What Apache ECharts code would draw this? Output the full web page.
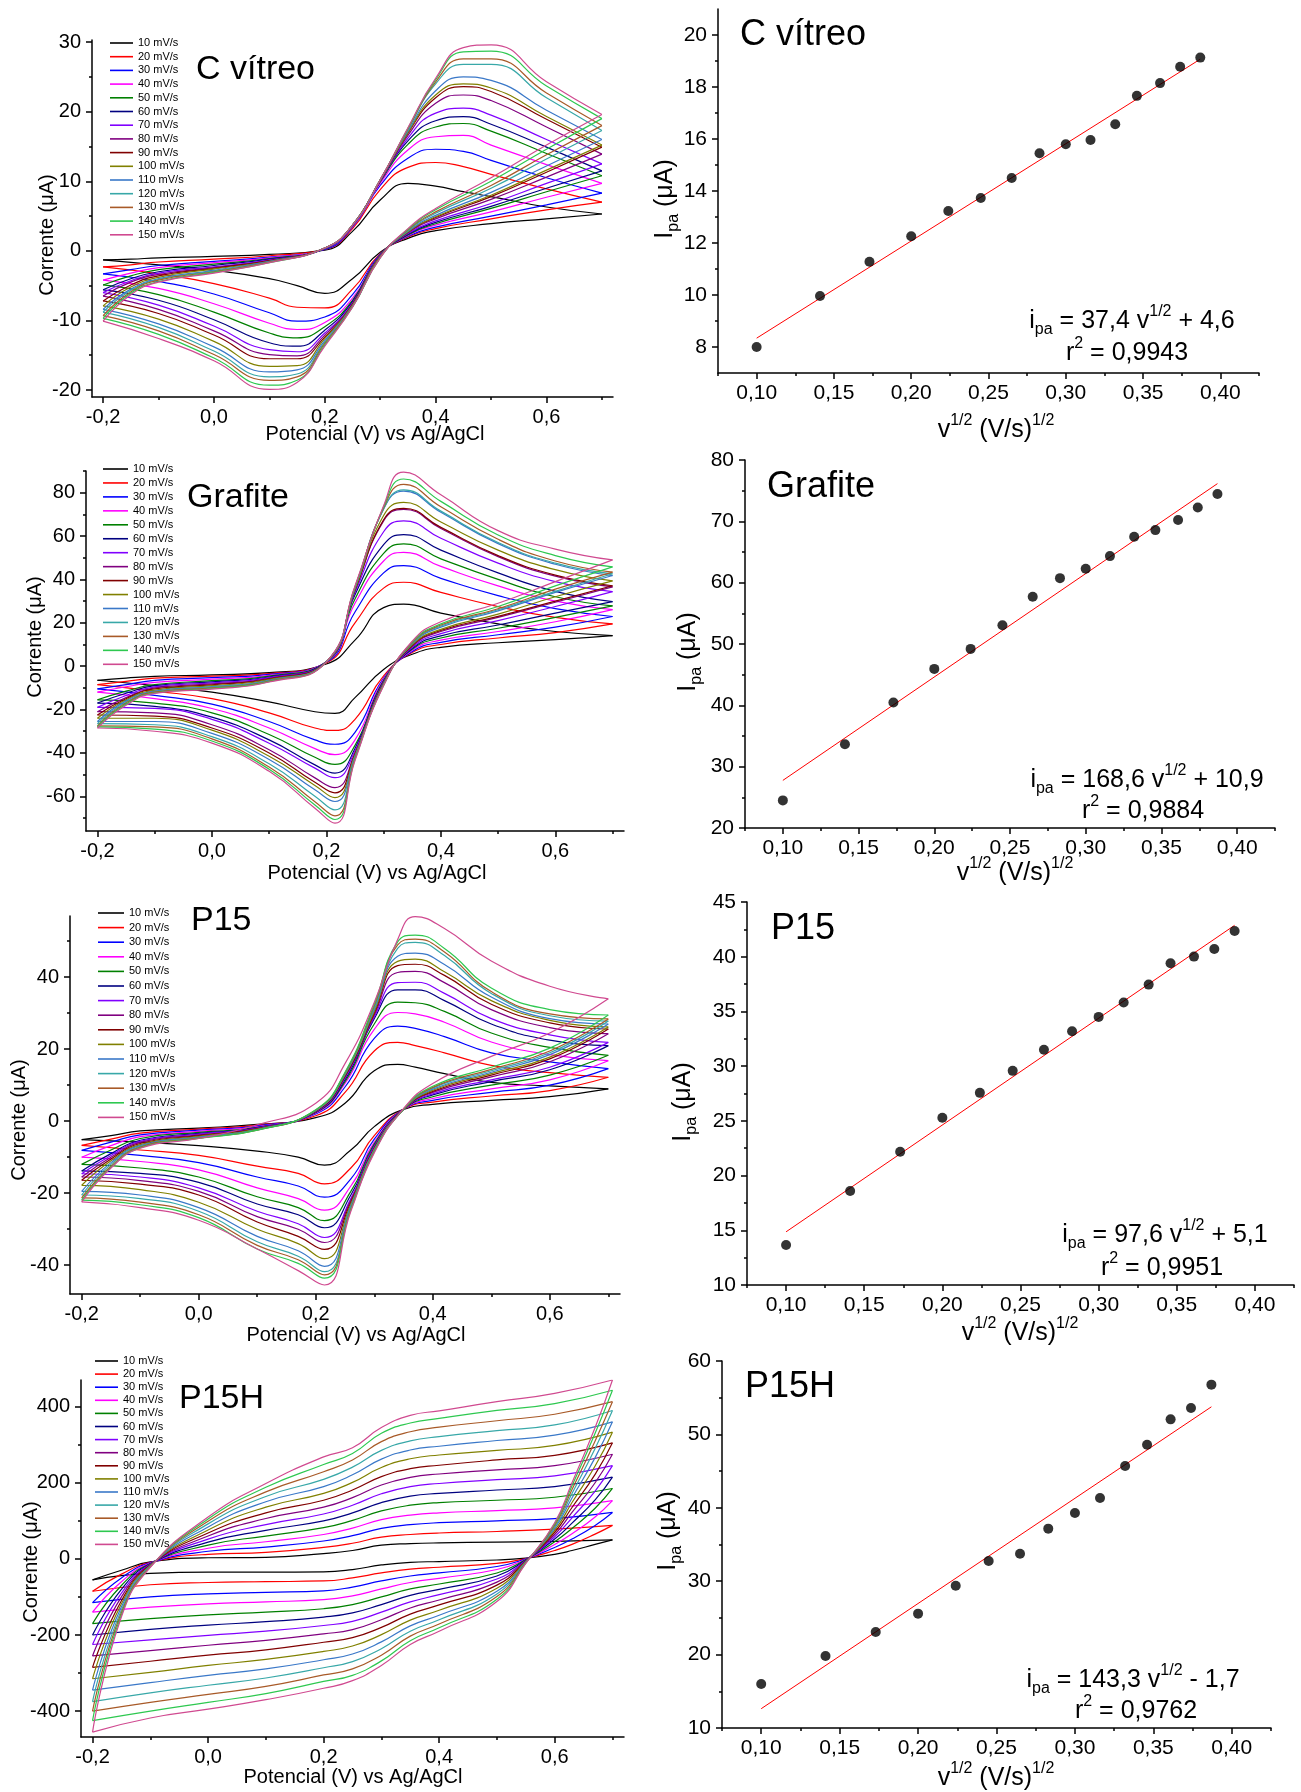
<!DOCTYPE html>
<html>
<head>
<meta charset="utf-8">
<script src="https://cdn.jsdelivr.net/npm/echarts@6/dist/echarts.min.js"></script>
<style>
  html, body { margin: 0; padding: 0; background: #fff; }
  #chart { width: 1301px; height: 1792px; }
</style>
</head>
<body>
<div id="chart"></div>
<script>
// scan rates, one curve per rate
const rates = ['10 mV/s', '20 mV/s', '30 mV/s', '40 mV/s', '50 mV/s', '60 mV/s', '70 mV/s', '80 mV/s',
  '90 mV/s', '100 mV/s', '110 mV/s', '120 mV/s', '130 mV/s', '140 mV/s', '150 mV/s'];
const lineColors = ['#000000', '#ff0000', '#0000ff', '#ff00ff', '#008000', '#000080', '#8000ff', '#800080',
  '#800000', '#808000', '#3a78c8', '#38a8a8', '#a85a28', '#2ec850', '#d04a90'];

// C vítreo: forward (anodic) and reverse scans, current in µA
const vitreoFwdE = [-0.2, -0.15, -0.1, 0.0, 0.1, 0.2, 0.25, 0.3, 0.35, 0.4, 0.45, 0.5, 0.6, 0.7];
const vitreoFwdI = [
  [-1.3, -1.2, -1.0, -0.8, -0.5, 0.1, 2.8, 7.3, 9.7, 9.3, 8.5, 7.8, 6.3, 5.3],
  [-2.3, -2.0, -1.6, -1.2, -0.7, 0.2, 3.2, 8.8, 12.0, 12.7, 12.1, 11.0, 8.9, 7.0],
  [-3.3, -2.7, -2.1, -1.5, -0.9, 0.2, 3.4, 9.4, 13.3, 14.6, 14.3, 13.0, 10.5, 8.3],
  [-4.2, -3.2, -2.4, -1.7, -1.0, 0.3, 3.5, 9.7, 14.5, 16.4, 16.6, 15.2, 12.4, 9.7],
  [-4.9, -3.6, -2.7, -1.9, -1.1, 0.3, 3.6, 9.9, 15.3, 17.8, 18.3, 17.2, 14.0, 10.8],
  [-5.6, -4.0, -3.0, -2.1, -1.2, 0.3, 3.6, 10.0, 15.8, 18.7, 19.3, 18.2, 14.9, 11.5],
  [-6.0, -4.3, -3.2, -2.3, -1.3, 0.3, 3.6, 10.0, 16.2, 19.8, 20.5, 19.5, 16.0, 12.5],
  [-6.5, -4.5, -3.4, -2.4, -1.4, 0.4, 3.7, 10.1, 16.6, 21.2, 22.4, 21.6, 17.8, 13.9],
  [-7.2, -4.9, -3.6, -2.5, -1.4, 0.4, 3.7, 10.1, 16.9, 22.0, 23.6, 22.9, 18.9, 14.9],
  [-7.9, -5.2, -3.8, -2.6, -1.5, 0.4, 3.7, 10.2, 17.0, 22.4, 24.0, 23.4, 19.3, 15.2],
  [-8.4, -5.5, -4.0, -2.8, -1.5, 0.4, 3.7, 10.2, 17.2, 23.0, 25.0, 24.5, 20.2, 16.0],
  [-8.8, -5.7, -4.1, -2.9, -1.6, 0.4, 3.7, 10.2, 17.4, 24.0, 26.8, 26.8, 22.0, 17.3],
  [-9.3, -5.9, -4.2, -3.0, -1.6, 0.4, 3.7, 10.2, 17.5, 24.3, 27.6, 27.6, 22.7, 18.0],
  [-9.7, -6.1, -4.4, -3.1, -1.7, 0.4, 3.7, 10.2, 17.6, 24.6, 28.6, 28.7, 23.7, 19.0],
  [-10.1, -6.3, -4.5, -3.2, -1.7, 0.4, 3.7, 10.2, 17.7, 24.8, 29.2, 29.6, 24.3, 19.6]
];
const vitreoRevE = [0.7, 0.6, 0.5, 0.4, 0.35, 0.3, 0.25, 0.2, 0.15, 0.1, 0.0, -0.1, -0.2];
const vitreoRevI = [
  [5.3, 4.6, 3.9, 2.9, 1.8, -0.2, -4.0, -6.1, -5.0, -4.0, -2.8, -2.0, -1.3],
  [7.0, 5.9, 4.6, 3.2, 2.0, -0.4, -5.5, -8.2, -8.1, -6.8, -4.7, -3.3, -2.3],
  [8.3, 6.6, 5.0, 3.4, 2.1, -0.5, -6.3, -9.5, -10.1, -8.9, -6.2, -4.4, -3.3],
  [9.7, 7.7, 5.6, 3.7, 2.2, -0.6, -6.8, -10.3, -11.3, -10.4, -7.6, -5.4, -4.2],
  [10.8, 8.5, 6.1, 3.9, 2.3, -0.6, -7.1, -10.9, -12.5, -11.8, -8.8, -6.3, -4.9],
  [11.5, 9.0, 6.4, 4.1, 2.4, -0.7, -7.3, -11.4, -13.7, -13.2, -9.9, -7.1, -5.6],
  [12.5, 9.7, 6.8, 4.3, 2.5, -0.7, -7.5, -11.8, -14.5, -14.2, -10.8, -7.8, -6.0],
  [13.9, 10.6, 7.4, 4.6, 2.6, -0.8, -7.6, -12.1, -15.1, -14.9, -11.5, -8.4, -6.5],
  [14.9, 11.3, 7.8, 4.8, 2.7, -0.8, -7.7, -12.4, -15.5, -15.5, -12.1, -9.0, -7.2],
  [15.2, 11.6, 8.0, 4.9, 2.7, -0.8, -7.8, -12.6, -16.5, -16.6, -13.0, -9.8, -7.9],
  [16.0, 12.2, 8.4, 5.1, 2.8, -0.9, -7.9, -12.9, -17.1, -17.4, -13.8, -10.5, -8.4],
  [17.3, 13.2, 9.0, 5.4, 2.9, -0.9, -8.0, -13.1, -17.7, -18.1, -14.4, -11.0, -8.8],
  [18.0, 13.8, 9.4, 5.6, 3.0, -0.9, -8.0, -13.3, -18.1, -18.6, -14.9, -11.5, -9.3],
  [19.0, 14.6, 10.0, 5.9, 3.1, -1.0, -8.1, -13.5, -18.6, -19.3, -15.4, -12.0, -9.7],
  [19.6, 15.2, 10.5, 6.1, 3.2, -1.0, -8.1, -13.7, -18.9, -19.9, -15.8, -12.6, -10.1]
];

// Grafite
const grafiteFwdE = [-0.2, -0.15, -0.1, 0.0, 0.1, 0.2, 0.25, 0.3, 0.335, 0.4, 0.5, 0.6, 0.7];
const grafiteFwdI = [
  [-6.5, -5.5, -4.7, -4.0, -3.0, 1.0, 12.0, 27.0, 28.6, 24.5, 19.5, 16.0, 14.1],
  [-8.5, -7.0, -5.5, -4.6, -3.4, 1.5, 20.0, 36.0, 38.7, 34.0, 27.5, 22.5, 19.5],
  [-10.5, -8.5, -6.5, -5.3, -3.8, 1.8, 25.0, 43.0, 46.4, 40.5, 32.5, 26.5, 22.9],
  [-12.0, -9.5, -7.5, -6.0, -4.2, 2.0, 29.0, 48.5, 52.5, 46.0, 37.0, 30.0, 26.1],
  [-15.5, -11.5, -8.5, -6.7, -4.6, 2.0, 31.0, 52.0, 56.4, 49.5, 40.0, 32.0, 27.8],
  [-17.0, -12.5, -9.0, -7.2, -5.0, 2.0, 33.0, 56.0, 60.7, 53.5, 43.0, 34.5, 29.8],
  [-19.0, -13.5, -9.5, -7.7, -5.3, 2.0, 34.0, 62.0, 67.0, 59.0, 47.5, 39.0, 34.4],
  [-21.0, -14.5, -10.0, -8.2, -5.6, 2.0, 35.0, 67.0, 72.3, 63.5, 50.5, 41.5, 36.6],
  [-22.5, -15.0, -10.5, -8.6, -5.9, 2.0, 35.0, 67.5, 72.8, 64.0, 51.0, 42.0, 37.1],
  [-24.0, -15.5, -11.0, -9.0, -6.2, 2.0, 35.5, 69.5, 75.5, 66.5, 53.5, 44.5, 39.3],
  [-25.5, -16.0, -11.5, -9.4, -6.5, 2.0, 36.0, 72.5, 80.7, 71.0, 56.5, 47.0, 41.8],
  [-26.5, -16.5, -11.8, -9.7, -6.7, 2.0, 36.0, 72.5, 81.3, 71.5, 57.0, 47.5, 42.6],
  [-27.5, -17.0, -12.0, -10.0, -6.9, 2.0, 36.5, 73.0, 83.8, 73.5, 58.5, 48.5, 43.4],
  [-28.0, -17.5, -12.3, -10.3, -7.1, 2.0, 36.5, 73.5, 86.3, 76.0, 60.5, 51.0, 45.8],
  [-28.5, -18.0, -12.5, -10.6, -7.3, 2.0, 37.0, 74.0, 89.5, 79.0, 62.5, 54.0, 49.0]
];
const grafiteRevE = [0.7, 0.6, 0.5, 0.4, 0.35, 0.3, 0.25, 0.215, 0.18, 0.1, 0.0, -0.1, -0.2];
const grafiteRevI = [
  [14.1, 12.2, 10.8, 8.7, 5.5, -1.5, -14.5, -21.8, -21.0, -16.5, -12.0, -9.0, -6.5],
  [19.5, 15.5, 13.0, 10.0, 6.3, -4.5, -24.5, -29.6, -28.5, -21.5, -15.0, -11.5, -8.5],
  [22.9, 18.0, 14.5, 11.0, 6.8, -5.5, -30.5, -36.0, -34.0, -25.5, -17.5, -13.5, -10.5],
  [26.1, 20.5, 16.0, 12.0, 7.3, -6.0, -34.0, -40.8, -38.0, -28.5, -19.5, -15.0, -12.0],
  [27.8, 22.5, 17.5, 13.0, 7.8, -6.5, -36.5, -45.3, -42.0, -31.5, -21.5, -17.0, -15.5],
  [29.8, 24.5, 19.0, 14.0, 8.2, -7.0, -38.0, -49.3, -45.5, -34.0, -23.5, -18.5, -17.0],
  [34.4, 27.5, 21.0, 15.0, 8.7, -7.3, -39.0, -51.4, -47.0, -35.5, -24.5, -19.5, -19.0],
  [36.6, 29.5, 22.5, 16.0, 9.2, -7.6, -40.0, -56.0, -51.5, -38.5, -27.0, -21.5, -21.0],
  [37.1, 30.0, 23.0, 16.5, 9.5, -7.8, -40.5, -58.4, -53.5, -40.0, -28.5, -23.0, -22.5],
  [39.3, 32.0, 24.0, 17.0, 9.8, -8.0, -41.0, -60.6, -55.0, -41.5, -29.5, -24.0, -24.0],
  [41.8, 34.0, 25.5, 18.0, 10.3, -8.2, -41.5, -62.4, -57.0, -43.0, -31.0, -25.5, -25.5],
  [42.6, 34.5, 26.0, 18.5, 10.5, -8.4, -42.0, -66.3, -60.0, -45.0, -32.5, -27.0, -26.5],
  [43.4, 35.5, 26.5, 19.0, 10.8, -8.6, -42.5, -69.0, -62.5, -46.5, -33.5, -28.0, -27.5],
  [45.8, 37.0, 27.5, 19.5, 11.1, -8.8, -43.0, -70.7, -64.0, -47.5, -34.5, -29.0, -28.0],
  [49.0, 39.0, 29.0, 20.5, 11.5, -9.0, -43.5, -72.4, -65.5, -48.5, -35.5, -30.0, -28.5]
];

// P15
const p15FwdE = [-0.2, -0.15, -0.1, 0.0, 0.1, 0.2, 0.25, 0.3, 0.34, 0.37, 0.42, 0.5, 0.6, 0.7];
const p15FwdI = [
  [-5.1, -4.0, -2.7, -1.9, -0.9, 1.0, 5.0, 14.0, 15.8, 15.0, 13.2, 10.8, 9.8, 9.0],
  [-6.7, -5.0, -3.3, -2.2, -1.1, 1.5, 8.0, 19.5, 21.9, 21.0, 19.0, 15.5, 13.5, 12.2],
  [-8.1, -5.8, -3.8, -2.5, -1.3, 2.0, 9.5, 23.0, 26.4, 25.8, 23.5, 19.0, 16.5, 14.6],
  [-10.0, -6.8, -4.3, -2.8, -1.5, 2.2, 10.5, 25.5, 30.2, 29.8, 27.5, 22.0, 18.5, 16.8],
  [-12.0, -8.0, -4.8, -3.1, -1.7, 2.4, 11.0, 27.0, 33.1, 32.9, 30.5, 24.5, 20.5, 18.3],
  [-13.8, -9.0, -5.3, -3.4, -1.8, 2.5, 11.5, 28.5, 36.5, 36.5, 33.5, 27.0, 22.5, 21.0],
  [-14.6, -9.5, -5.6, -3.6, -1.9, 2.6, 12.0, 29.0, 38.5, 38.6, 35.5, 28.5, 24.0, 21.9],
  [-15.5, -10.0, -5.9, -3.8, -2.0, 2.7, 12.3, 29.5, 41.3, 41.6, 38.5, 31.0, 26.0, 24.3],
  [-16.4, -10.5, -6.2, -4.0, -2.1, 2.8, 12.5, 30.0, 43.2, 43.6, 40.5, 32.5, 27.3, 25.6],
  [-17.8, -11.0, -6.5, -4.2, -2.2, 2.9, 12.8, 30.5, 44.4, 45.0, 41.5, 33.5, 28.0, 26.2],
  [-19.5, -11.5, -6.8, -4.4, -2.3, 3.0, 13.0, 31.0, 45.8, 46.7, 43.5, 34.5, 28.5, 27.0],
  [-20.5, -12.0, -7.0, -4.6, -2.4, 3.0, 13.2, 31.5, 48.0, 49.7, 46.0, 35.5, 29.3, 27.8],
  [-21.3, -12.5, -7.2, -4.7, -2.5, 3.1, 13.4, 32.0, 49.0, 50.6, 47.0, 36.0, 29.8, 28.4],
  [-21.9, -12.8, -7.4, -4.8, -2.5, 3.2, 13.6, 32.5, 49.8, 51.7, 48.0, 37.0, 31.0, 29.5],
  [-22.4, -13.0, -7.5, -4.8, -1.0, 5.0, 16.0, 33.0, 50.5, 56.8, 53.5, 44.5, 37.5, 34.0]
];
const p15RevE = [0.7, 0.6, 0.5, 0.4, 0.35, 0.3, 0.26, 0.215, 0.17, 0.1, 0.0, -0.1, -0.2];
const p15RevI = [
  [9.0, 6.8, 5.8, 4.7, 3.3, -1.5, -8.0, -12.2, -10.0, -8.3, -6.8, -5.8, -5.1],
  [12.2, 8.5, 7.0, 5.3, 3.3, -4.0, -13.0, -17.4, -14.5, -12.5, -9.5, -8.0, -6.7],
  [14.6, 10.0, 8.0, 5.8, 3.3, -5.0, -16.0, -21.1, -18.0, -15.5, -11.5, -9.5, -8.1],
  [16.8, 11.5, 9.0, 6.3, 3.3, -5.8, -18.0, -24.7, -21.5, -18.5, -13.5, -11.2, -10.0],
  [18.3, 12.8, 10.0, 6.8, 3.3, -6.3, -19.5, -27.6, -24.0, -21.0, -15.5, -13.0, -12.0],
  [21.0, 14.3, 11.0, 7.3, 3.3, -6.8, -20.5, -29.6, -26.0, -23.0, -17.0, -14.5, -13.8],
  [21.9, 15.0, 11.5, 7.6, 3.3, -7.0, -21.5, -32.3, -28.5, -25.0, -18.5, -15.5, -14.6],
  [24.3, 16.5, 12.3, 8.0, 3.3, -7.3, -22.0, -33.7, -30.0, -26.5, -19.5, -16.5, -15.5],
  [25.6, 17.3, 12.8, 8.3, 3.3, -7.5, -22.5, -35.6, -32.0, -28.0, -20.5, -17.5, -16.4],
  [26.2, 17.8, 13.2, 8.6, 3.3, -7.7, -23.0, -38.2, -34.0, -30.0, -22.5, -19.0, -17.8],
  [27.0, 18.5, 13.6, 8.9, 3.3, -7.9, -23.5, -40.3, -36.0, -32.0, -24.0, -20.5, -19.5],
  [27.8, 19.0, 14.0, 9.2, 3.3, -8.1, -24.0, -41.8, -37.5, -33.5, -25.0, -21.5, -20.5],
  [28.4, 19.5, 14.4, 9.4, 3.3, -8.3, -24.3, -42.7, -38.5, -34.5, -26.0, -22.5, -21.3],
  [29.5, 20.3, 15.0, 9.7, 3.3, -8.5, -24.6, -43.6, -39.5, -35.5, -26.8, -23.2, -21.9],
  [34.0, 24.5, 18.0, 10.5, 3.5, -8.8, -25.0, -45.5, -41.5, -35.5, -27.5, -24.0, -22.4]
];

// P15H
const p15hFwdE = [-0.2, -0.15, -0.1, 0.0, 0.1, 0.2, 0.25, 0.3, 0.35, 0.4, 0.5, 0.6, 0.7];
const p15hFwdI = [
  [-55, -30, -8, 3, 4, 14, 22, 36, 40, 42, 44, 46, 50],
  [-85, -40, -9, 12, 17, 30, 41, 57, 64, 68, 72, 78, 88],
  [-115, -50, -10, 20, 31, 47, 61, 80, 90, 95, 100, 106, 122],
  [-140, -60, -11, 28, 45, 64, 81, 103, 115, 121, 127, 134, 153],
  [-170, -70, -12, 36, 60, 82, 101, 126, 141, 148, 154, 162, 185],
  [-200, -80, -13, 44, 75, 100, 121, 148, 165, 172, 181, 190, 215],
  [-225, -90, -14, 52, 90, 118, 141, 171, 190, 198, 208, 218, 245],
  [-255, -100, -15, 60, 106, 136, 161, 194, 214, 223, 234, 245, 275],
  [-285, -110, -16, 68, 121, 154, 181, 216, 237, 246, 260, 272, 305],
  [-315, -118, -17, 76, 136, 172, 201, 240, 263, 273, 285, 298, 333],
  [-345, -126, -18, 84, 150, 190, 221, 262, 286, 296, 311, 325, 360],
  [-375, -134, -19, 92, 164, 209, 241, 285, 310, 321, 337, 352, 390],
  [-400, -141, -20, 99, 176, 229, 260, 308, 334, 346, 363, 380, 413],
  [-425, -147, -21, 105, 188, 248, 277, 330, 357, 369, 390, 408, 443],
  [-455, -152, -22, 110, 198, 268, 292, 345, 377, 389, 413, 435, 470]
];
const p15hRevE = [0.7, 0.67, 0.63, 0.6, 0.55, 0.5, 0.4, 0.35, 0.3, 0.25, 0.2, 0.1, 0.0, -0.1, -0.2];
const p15hRevI = [
  [50, 38, 22, 12, 2, -3, -7, -9, -16, -28, -34, -35, -35, -38, -55],
  [88, 65, 38, 22, 1, -12, -22, -27, -37, -50, -58, -60, -62, -68, -85],
  [122, 88, 52, 30, 0, -20, -37, -45, -58, -74, -84, -88, -92, -100, -115],
  [153, 110, 66, 38, -1, -28, -51, -62, -79, -97, -107, -113, -118, -127, -140],
  [185, 133, 80, 45, -2, -37, -66, -79, -100, -120, -131, -140, -147, -157, -170],
  [215, 155, 94, 52, -3, -45, -80, -96, -120, -142, -153, -165, -174, -185, -200],
  [245, 178, 108, 58, -4, -53, -94, -113, -140, -164, -175, -190, -201, -213, -225],
  [275, 200, 122, 64, -5, -61, -108, -129, -160, -186, -197, -214, -227, -241, -255],
  [305, 222, 135, 70, -6, -69, -121, -145, -180, -207, -219, -239, -253, -269, -285],
  [333, 244, 148, 75, -7, -77, -135, -161, -199, -229, -243, -264, -280, -298, -315],
  [360, 266, 160, 80, -8, -85, -148, -176, -218, -250, -265, -289, -306, -325, -345],
  [390, 290, 172, 84, -9, -92, -160, -190, -236, -270, -286, -313, -332, -352, -375],
  [413, 310, 182, 88, -10, -99, -171, -203, -253, -289, -305, -335, -356, -377, -400],
  [443, 330, 192, 92, -11, -106, -181, -215, -268, -306, -322, -354, -377, -400, -425],
  [470, 345, 200, 95, -12, -112, -190, -225, -280, -320, -340, -370, -395, -418, -455]
];

// peak current vs square root of scan rate
const sqrtRate = [0.100, 0.141, 0.173, 0.200, 0.224, 0.245, 0.265, 0.283, 0.300, 0.316, 0.332, 0.346, 0.361, 0.374, 0.387];
const vitreoIpa = [8.0, 9.96, 11.28, 12.26, 13.23, 13.73, 14.5, 15.45, 15.8, 15.96, 16.57, 17.66, 18.15, 18.78, 19.13];
const grafiteIpa = [24.5, 33.65, 40.45, 45.94, 49.2, 53.07, 57.69, 60.74, 62.26, 64.33, 67.49, 68.57, 70.21, 72.27, 74.45];
const p15Ipa = [13.65, 18.59, 22.18, 25.28, 27.56, 29.57, 31.49, 33.19, 34.5, 35.81, 37.45, 39.4, 40.01, 40.71, 42.35];
const p15hIpa = [16.0, 19.81, 23.08, 25.58, 29.39, 32.75, 33.75, 37.16, 39.29, 41.34, 45.69, 48.6, 52.05, 53.6, 56.78];
const fitX = [0.100, 0.387];
const vitreoFit = [8.34, 19.07];
const grafiteFit = [27.76, 76.15];
const p15Fit = [14.86, 42.87];
const p15hFit = [12.63, 53.76];

const FONT = '"Liberation Sans", Arial, sans-serif';
const chart = echarts.init(document.getElementById('chart'));

const grids = [
  { left: 92, top: 40, width: 521, height: 357 },
  { left: 718, top: 9, width: 541, height: 364 },
  { left: 86, top: 471, width: 538, height: 360 },
  { left: 745, top: 460, width: 530, height: 368 },
  { left: 70, top: 916, width: 550, height: 378 },
  { left: 747, top: 902, width: 547, height: 383 },
  { left: 81, top: 1380, width: 543, height: 357 },
  { left: 722, top: 1361, width: 549, height: 367 }
];

const cvTicks = [-0.2, 0.0, 0.2, 0.4, 0.6];
const cvMinor = [-0.1, 0.1, 0.3, 0.5, 0.7];
const fitTicks = [0.10, 0.15, 0.20, 0.25, 0.30, 0.35, 0.40];
const fitMinor = [0.075, 0.125, 0.175, 0.225, 0.275, 0.325, 0.375, 0.425];

const xAxes = [];
const yAxes = [];
const comma = (v, d) => v.toFixed(d).replace('.', ',');

function lineAx(g, min, max, major, minor, fmt, fs, margin, pos) {
  const ls = { color: '#000', width: 1.5 };
  return [{
    type: 'value', gridIndex: g, min, max, position: pos,
    axisLine: { show: true, onZero: false, lineStyle: ls },
    axisTick: { show: true, inside: false, length: 6, lineStyle: ls, customValues: major },
    axisLabel: { show: true, customValues: major, formatter: fmt, color: '#000', fontSize: fs, fontFamily: FONT, margin },
    splitLine: { show: false }
  }, {
    type: 'value', gridIndex: g, min, max, position: pos,
    axisLine: { show: false, onZero: false },
    axisTick: { show: true, inside: false, length: 3, lineStyle: ls, customValues: minor },
    axisLabel: { show: false },
    splitLine: { show: false }
  }];
}

function addAxes(g, xr, yr, xMajor, xMinor, yMajor, yMinor, xd, fs) {
  xAxes.push(...lineAx(g, xr[0], xr[1], xMajor, xMinor, v => comma(v, xd), fs, 10, 'bottom'));
  yAxes.push(...lineAx(g, yr[0], yr[1], yMajor, yMinor, v => String(Math.round(v)), fs, 11, 'left'));
}

addAxes(0, [-0.22, 0.72], [-21, 30.3], cvTicks, cvMinor, [-20, -10, 0, 10, 20, 30], [-15, -5, 5, 15, 25], 1, 20);
addAxes(1, [0.075, 0.425], [7, 21], fitTicks, fitMinor, [8, 10, 12, 14, 16, 18, 20], [9, 11, 13, 15, 17, 19], 2, 21);
addAxes(2, [-0.22, 0.72], [-76, 90], cvTicks, cvMinor, [-60, -40, -20, 0, 20, 40, 60, 80], [-70, -50, -30, -10, 10, 30, 50, 70, 90], 1, 20);
addAxes(3, [0.075, 0.425], [20, 80], fitTicks, fitMinor, [20, 30, 40, 50, 60, 70, 80], [25, 35, 45, 55, 65, 75], 2, 21);
addAxes(4, [-0.22, 0.72], [-48, 57], cvTicks, cvMinor, [-40, -20, 0, 20, 40], [-30, -10, 10, 30, 50], 1, 20);
addAxes(5, [0.075, 0.425], [10, 45], fitTicks, fitMinor, [10, 15, 20, 25, 30, 35, 40, 45], [12.5, 17.5, 22.5, 27.5, 32.5, 37.5, 42.5], 2, 21);
addAxes(6, [-0.22, 0.72], [-468, 470], cvTicks, cvMinor, [-400, -200, 0, 200, 400], [-300, -100, 100, 300], 1, 20);
addAxes(7, [0.075, 0.425], [10, 60], fitTicks, fitMinor, [10, 20, 30, 40, 50, 60], [15, 25, 35, 45, 55], 2, 21);

const series = [];

// one line per sweep direction so the turning points stay sharp
function cvSeries(g, fwdE, fwdI, revE, revI) {
  rates.forEach((name, i) => {
    [[fwdE, fwdI[i]], [revE, revI[i]]].forEach(([e, cur]) => {
      series.push({
        type: 'line', name, xAxisIndex: 2 * g, yAxisIndex: 2 * g,
        data: e.map((v, k) => [v, cur[k]]),
        smooth: 0.5, showSymbol: false, symbol: 'none',
        lineStyle: { color: lineColors[i], width: 1.2 }, itemStyle: { color: lineColors[i] },
        silent: true, animation: false
      });
    });
  });
}

function fitSeries(g, ipa, fit) {
  series.push({
    type: 'line', xAxisIndex: 2 * g, yAxisIndex: 2 * g,
    data: fitX.map((v, k) => [v, fit[k]]),
    symbol: 'none', lineStyle: { color: '#ff0000', width: 1 }, silent: true, animation: false, z: 2
  });
  series.push({
    type: 'scatter', xAxisIndex: 2 * g, yAxisIndex: 2 * g,
    data: sqrtRate.map((v, k) => [v, ipa[k]]),
    symbol: 'circle', symbolSize: 10, itemStyle: { color: '#000' }, silent: true, animation: false, z: 3
  });
}

cvSeries(0, vitreoFwdE, vitreoFwdI, vitreoRevE, vitreoRevI);
cvSeries(2, grafiteFwdE, grafiteFwdI, grafiteRevE, grafiteRevI);
cvSeries(4, p15FwdE, p15FwdI, p15RevE, p15RevI);
cvSeries(6, p15hFwdE, p15hFwdI, p15hRevE, p15hRevI);
fitSeries(1, vitreoIpa, vitreoFit);
fitSeries(3, grafiteIpa, grafiteFit);
fitSeries(5, p15Ipa, p15Fit);
fitSeries(7, p15hIpa, p15hFit);

function legendAt(left, top, w, gap) {
  return {
    orient: 'vertical', left, top, itemWidth: w, itemHeight: 1.6, itemGap: gap, icon: 'rect',
    selectedMode: false, padding: 0, data: rates,
    textStyle: { fontSize: 11, lineHeight: 12, color: '#000', fontFamily: FONT }
  };
}

const rich = (m, s) => ({
  m: { fontSize: m, fontFamily: FONT, fill: '#000', color: '#000', lineHeight: Math.round(m * 1.36) },
  s: { fontSize: s, fontFamily: FONT, fill: '#000', color: '#000', verticalAlign: 'bottom', lineHeight: s },
  p: { fontSize: s, fontFamily: FONT, fill: '#000', color: '#000', verticalAlign: 'top', lineHeight: s }
});

function txt(x, y, text, fs, opt) {
  opt = opt || {};
  return {
    type: 'text', x, y, rotation: opt.rot || 0, silent: true,
    style: {
      text, fill: '#000', fontSize: fs, fontFamily: FONT,
      align: opt.align || 'center', verticalAlign: 'middle',
      textAlign: opt.align || 'center', textVerticalAlign: 'middle',
      rich: opt.rich
    }
  };
}

const graphics = [];
// panel names
[[196, 70, 'C vítreo', 34], [740, 35, 'C vítreo', 36], [187, 498, 'Grafite', 34], [767, 487, 'Grafite', 36],
 [191, 921, 'P15', 34], [771, 929, 'P15', 36], [179, 1399, 'P15H', 34], [745, 1387, 'P15H', 36]]
  .forEach(([x, y, t, fs]) => graphics.push(txt(x, y, t, fs, { align: 'left' })));

// voltammogram axis titles
[[375, 434], [377, 873], [356, 1335], [353, 1777]]
  .forEach(([x, y]) => graphics.push(txt(x, y, 'Potencial (V) vs Ag/AgCl', 20)));
[[47, 235], [35, 637], [19, 1120], [31, 1562]]
  .forEach(([x, y]) => graphics.push(txt(x, y, 'Corrente (μA)', 20, { rot: Math.PI / 2 })));

// Randles-Sevcik axis titles
const r25 = rich(25, 16);
[[996, 430], [1015, 873], [1020, 1333], [996, 1778]]
  .forEach(([x, y]) => graphics.push(txt(x, y, '{m|v}{p|1/2}{m| (V/s)}{p|1/2}', 25, { rich: r25 })));
[[665, 199], [688, 652], [683, 1102], [668, 1531]]
  .forEach(([x, y]) => graphics.push(txt(x, y, '{m|I}{s|pa}{m| (μA)}', 25, { rich: r25, rot: Math.PI / 2 })));

// regression equations
const eqs = [
  [1132, 321, '37,4', '+ 4,6', 1127, 353, '0,9943'],
  [1147, 780, '168,6', '+ 10,9', 1143, 811, '0,9884'],
  [1165, 1235, '97,6', '+ 5,1', 1162, 1268, '0,9951'],
  [1133, 1680, '143,3', '- 1,7', 1136, 1711, '0,9762']
];
eqs.forEach(([x1, y1, a, b, x2, y2, r2]) => {
  graphics.push(txt(x1, y1, `{m|i}{s|pa}{m| = ${a} v}{p|1/2}{m| ${b}}`, 25, { rich: r25 }));
  graphics.push(txt(x2, y2, `{m|r}{p|2}{m| = ${r2}}`, 25, { rich: r25 }));
});

chart.setOption({
  animation: false,
  backgroundColor: '#fff',
  textStyle: { fontFamily: FONT },
  grid: grids,
  xAxis: xAxes,
  yAxis: yAxes,
  legend: [legendAt(110, 37, 23, 1.7), legendAt(103, 463, 25, 1.95), legendAt(98, 907, 26, 2.6), legendAt(95, 1355, 23, 1.1)],
  series,
  graphic: graphics
});
</script>
</body>
</html>
